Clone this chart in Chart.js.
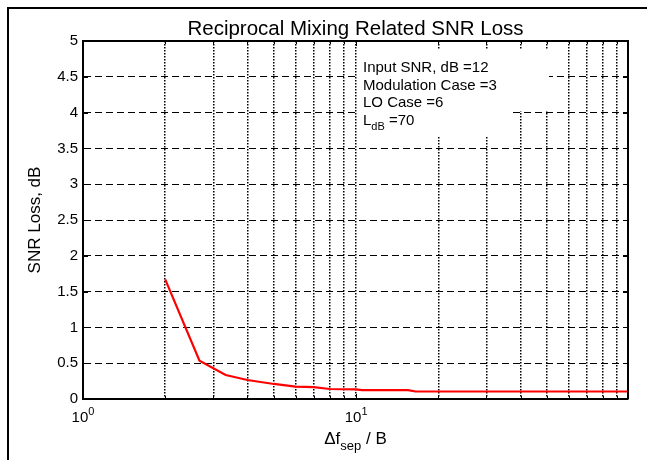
<!DOCTYPE html>
<html>
<head>
<meta charset="utf-8">
<script src="https://cdn.jsdelivr.net/npm/chart.js@4.4.1/dist/chart.umd.min.js"></script>
<style>
  html, body { margin: 0; padding: 0; background: #fff; }
  #wrap { width: 647px; height: 460px; }
</style>
</head>
<body>
<div id="wrap"><canvas id="snrChart" width="647" height="460"></canvas></div>
<script>
// ---------- Data ----------

const sepRatio  = [2, 2.67, 3.33, 4, 5, 6, 7, 8, 10, 10.5, 15.5, 16.5, 99];
const snrLossDb = [1.67, 0.535, 0.335, 0.265, 0.21, 0.172, 0.165, 0.14, 0.135, 0.125, 0.125, 0.105, 0.105];

const xGridValues = [1, 2, 3, 4, 5, 6, 7, 8, 9, 10, 20, 30, 40, 50, 60, 70, 80, 90];
const xDecades = [1, 10];          // labelled as 10^0, 10^1
const xMin = 1;
const xMax = 99;
const yMin = 0;
const yMax = 5;
const yStep = 0.5;

const titleText = 'Reciprocal Mixing Related SNR Loss';
const yTitleText = 'SNR Loss, dB';
// rich text: [text, 'n' | 'sub' | 'sup']
const xTitleParts = [['\u0394f', 'n'], ['sep', 'sub'], [' / B', 'n']];
const noteLines = [
  [['Input SNR, dB =12', 'n']],
  [['Modulation Case =3', 'n']],
  [['LO Case =6', 'n']],
  [['L', 'n'], ['dB', 'sub'], [' =70', 'n']],
];

// ---------- Helpers ----------

const FONT = "'Liberation Sans', Arial, Helvetica, sans-serif";
Chart.defaults.font.family = FONT;
Chart.defaults.color = '#000';

function richWidth(ctx, parts, size) {
  let w = 0;
  parts.forEach(([t, kind]) => {
    ctx.font = `${kind === 'n' ? size : Math.round(size * 0.75)}px ${FONT}`;
    w += ctx.measureText(t).width;
  });
  return w;
}

function drawRich(ctx, parts, x, y, size) {
  ctx.textAlign = 'left';
  ctx.textBaseline = 'alphabetic';
  parts.forEach(([t, kind]) => {
    const s = kind === 'n' ? size : Math.round(size * 0.75);
    ctx.font = `${s}px ${FONT}`;
    let dy = 0;
    if (kind === 'sub') dy = size * 0.38;
    if (kind === 'sup') dy = -size * 0.5;
    ctx.fillText(t, x, y + dy);
    x += ctx.measureText(t).width;
  });
}

// ---------- Frame, ticks and text ----------

const matlabFrame = {
  id: 'matlabFrame',
  afterDatasetsDraw(chart) {
    const { ctx, chartArea: a, scales } = chart;
    const xs = scales.x;
    const ys = scales.y;

    ctx.save();

    // white box behind the note
    ctx.fillStyle = '#fff';
    ctx.fillRect(358, a.top + 9, 191, 61);
    ctx.fillRect(358, a.top + 70, 153, 26);

    // top and right edges of the axes box
    ctx.strokeStyle = '#000';
    ctx.lineWidth = 2;
    ctx.beginPath();
    ctx.moveTo(a.left, a.top);
    ctx.lineTo(a.right, a.top);
    ctx.lineTo(a.right, a.bottom);
    ctx.stroke();

    // inward ticks
    ctx.lineWidth = 1;
    ctx.beginPath();
    for (let v = yMin; v <= yMax + 1e-9; v += yStep) {
      const py = Math.round(ys.getPixelForValue(v)) + 0.5;
      ctx.moveTo(a.left, py); ctx.lineTo(a.left + 5, py);
      ctx.moveTo(a.right, py); ctx.lineTo(a.right - 5, py);
    }
    xGridValues.forEach((v) => {
      const px = Math.round(xs.getPixelForValue(v)) + 0.5;
      const len = xDecades.includes(v) ? 5 : 3;
      ctx.moveTo(px, a.bottom); ctx.lineTo(px, a.bottom - len);
      ctx.moveTo(px, a.top); ctx.lineTo(px, a.top + len);
    });
    ctx.stroke();

    // outer figure lines
    ctx.lineWidth = 2;
    ctx.beginPath();
    ctx.moveTo(8, 460);
    ctx.lineTo(8, 8);
    ctx.lineTo(647, 8);
    ctx.stroke();

    ctx.fillStyle = '#000';

    // title
    ctx.font = `20.5px ${FONT}`;
    ctx.textAlign = 'center';
    ctx.textBaseline = 'alphabetic';
    ctx.fillText(titleText, (a.left + a.right) / 2, 35);

    // x decade labels
    xDecades.forEach((v) => {
      const px = xs.getPixelForValue(v);
      const parts = [['10', 'n'], [String(Math.round(Math.log10(v))), 'sup']];
      const w = richWidth(ctx, parts, 15);
      drawRich(ctx, parts, px - w / 2, 422, 15);
    });

    // x title
    const wx = richWidth(ctx, xTitleParts, 17);
    drawRich(ctx, xTitleParts, (a.left + a.right) / 2 - wx / 2, 444, 17);

    // y title
    ctx.save();
    ctx.translate(40, (a.top + a.bottom) / 2);
    ctx.rotate(-Math.PI / 2);
    ctx.font = `17px ${FONT}`;
    ctx.textAlign = 'center';
    ctx.textBaseline = 'alphabetic';
    ctx.fillText(yTitleText, 0, 0);
    ctx.restore();

    // note
    noteLines.forEach((parts, i) => {
      drawRich(ctx, parts, 363, a.top + 31 + i * 17.5, 15);
    });

    ctx.restore();
  }
};

// ---------- Chart ----------

function initChart() {
  const ctx = document.getElementById('snrChart').getContext('2d');
  const points = sepRatio.map((x, i) => ({ x, y: snrLossDb[i] }));

  return new Chart(ctx, {
    type: 'line',
    data: {
      datasets: [{
        data: points,
        borderColor: '#ff0000',
        borderWidth: 2.2,
        pointRadius: 0,
        tension: 0,
        fill: false
      }]
    },
    options: {
      responsive: false,
      animation: false,
      layout: { padding: { left: 0, right: 19, top: 41, bottom: 0 } },
      plugins: {
        legend: { display: false },
        tooltip: { enabled: false },
        title: { display: false }
      },
      scales: {
        x: {
          type: 'logarithmic',
          min: xMin,
          max: xMax,
          afterBuildTicks: (s) => { s.ticks = xGridValues.map((v) => ({ value: v })); },
          afterFit: (s) => { s.height = 61; },
          ticks: { display: false },
          grid: { color: '#000', lineWidth: 1.5, drawTicks: false },
          border: { display: true, color: '#000', width: 2, dash: [1.5, 1.5] }
        },
        y: {
          min: yMin,
          max: yMax,
          afterFit: (s) => { s.width = 83; },
          ticks: {
            stepSize: yStep,
            padding: 5,
            autoSkip: false,
            font: { size: 15 },
            color: '#000',
            callback: (v) => String(Math.round(v * 10) / 10)
          },
          grid: { color: '#000', lineWidth: 1, drawTicks: false },
          border: { display: true, color: '#000', width: 2, dash: [7, 4] }
        }
      }
    },
    plugins: [matlabFrame]
  });
}

initChart();
</script>
</body>
</html>
